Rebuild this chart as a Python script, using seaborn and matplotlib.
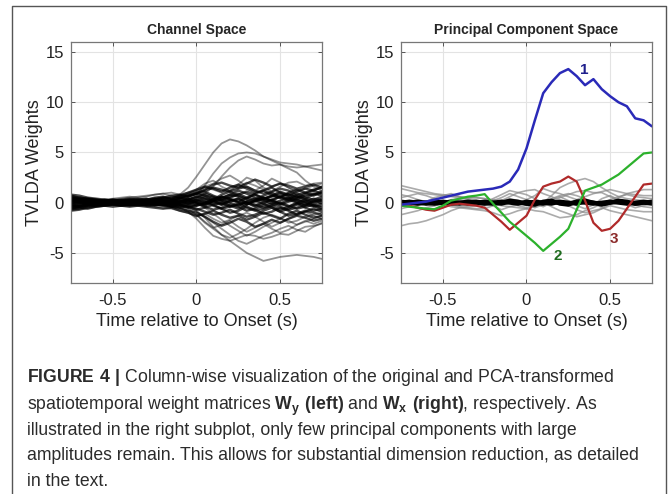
import numpy as np
import pandas as pd
import seaborn as sns
import matplotlib.pyplot as plt
from matplotlib.lines import Line2D

# time axis (s), one sample every 50 ms
time = [-0.75, -0.70, -0.65, -0.60, -0.55, -0.50, -0.45, -0.40, -0.35, -0.30,
        -0.25, -0.20, -0.15, -0.10, -0.05, 0.00, 0.05, 0.10, 0.15, 0.20,
        0.25, 0.30, 0.35, 0.40, 0.45, 0.50, 0.55, 0.60, 0.65, 0.70, 0.75]

# left panel: channel weights
channel_bundle = [
    [0.6,0.5,0.4,0.3,0.2,0.1,0.2,0.3,0.2,0.1,0.3,0.4,0.5,0.6,0.8,1.0,1.2,1.5,1.3,1.1,1.4,1.6,1.2,0.9,1.1,1.4,1.2,0.8,1.0,1.3,1.5],
    [-0.7,-0.6,-0.4,-0.3,-0.2,-0.1,-0.2,-0.1,0.0,-0.1,-0.2,-0.3,-0.4,-0.5,-0.3,-0.6,-0.9,-1.2,-1.0,-0.7,-1.1,-1.4,-1.2,-0.8,-0.5,-0.9,-1.3,-1.1,-0.8,-1.0,-1.2],
    [0.3,0.2,0.3,0.2,0.1,0.2,0.1,0.0,0.1,0.2,0.1,0.0,0.2,0.3,0.1,0.4,0.7,0.5,0.2,0.6,0.9,0.5,0.3,0.7,1.0,0.6,0.4,0.8,0.5,0.3,0.6],
    [-0.3,-0.2,-0.1,-0.2,-0.1,0.0,0.1,0.0,-0.1,0.0,0.1,0.2,0.0,-0.2,-0.4,-0.2,0.1,-0.3,-0.6,-0.4,-0.1,-0.5,-0.8,-0.6,-0.3,-0.7,-0.4,-0.1,-0.5,-0.8,-0.6],
    [0.8,0.7,0.5,0.4,0.3,0.2,0.3,0.4,0.3,0.2,0.4,0.5,0.3,0.5,0.7,0.9,1.3,1.8,2.0,1.7,1.5,1.9,2.3,2.0,1.6,1.9,1.7,1.4,1.6,1.8,1.5],
    [-0.5,-0.4,-0.3,-0.2,-0.3,-0.2,-0.1,-0.2,-0.3,-0.2,-0.1,-0.2,-0.4,-0.6,-0.8,-1.0,-1.4,-1.9,-2.3,-2.0,-1.6,-1.9,-2.4,-2.1,-1.7,-2.0,-1.6,-1.3,-1.5,-1.8,-1.6],
    [0.1,0.0,0.1,0.0,0.1,0.0,-0.1,0.0,0.1,0.0,-0.1,0.0,0.1,0.0,0.2,0.0,-0.2,0.1,0.3,0.0,-0.3,0.1,0.4,0.2,-0.1,0.2,0.5,0.1,-0.2,0.2,0.0],
    [-0.1,0.0,-0.1,0.0,-0.1,0.0,0.1,0.0,-0.1,0.0,0.1,0.0,-0.1,0.0,-0.2,0.1,0.3,0.0,-0.2,0.2,0.4,0.0,-0.3,0.1,0.3,-0.1,-0.4,0.0,0.3,-0.1,0.2],
    [0.5,0.4,0.2,0.1,0.0,0.1,0.2,0.1,0.0,0.1,0.3,0.5,0.7,0.8,0.6,0.9,1.1,0.7,0.4,0.8,1.2,0.9,0.5,0.3,0.7,1.1,0.8,0.5,0.9,1.2,0.9],
    [-0.8,-0.7,-0.5,-0.4,-0.3,-0.2,-0.3,-0.2,-0.1,-0.2,-0.3,-0.1,0.0,-0.2,-0.4,-0.7,-0.5,-0.2,-0.6,-1.0,-0.8,-0.4,-0.7,-1.1,-0.9,-0.5,-0.8,-1.2,-0.9,-0.6,-0.9],
    [0.2,0.3,0.2,0.1,0.2,0.3,0.2,0.3,0.4,0.3,0.2,0.1,-0.1,0.1,0.3,0.6,0.4,0.2,0.5,0.8,0.6,0.3,0.1,0.4,0.7,0.5,0.2,0.4,0.7,0.9,0.7],
    [-0.4,-0.3,-0.2,-0.1,0.0,-0.1,0.0,-0.1,-0.2,-0.3,-0.2,-0.1,-0.3,-0.1,0.1,-0.1,-0.4,-0.7,-0.5,-0.2,-0.4,-0.8,-0.6,-0.3,-0.1,-0.4,-0.7,-0.5,-0.2,-0.4,-0.3],
    [0.4,0.3,0.1,0.0,-0.1,0.0,0.1,0.2,0.1,0.3,0.5,0.6,0.4,0.7,1.0,1.3,1.6,1.4,1.1,1.5,1.8,1.4,1.0,1.2,1.5,1.0,0.7,1.1,1.4,1.2,1.6],
    [-0.6,-0.5,-0.6,-0.4,-0.3,-0.4,-0.3,-0.4,-0.3,-0.4,-0.5,-0.6,-0.5,-0.8,-1.0,-1.3,-1.1,-0.8,-1.2,-1.5,-1.3,-1.7,-1.4,-1.0,-1.3,-1.6,-1.1,-0.8,-1.2,-1.5,-1.3],
    [0.0,0.1,0.0,-0.1,0.0,0.1,0.0,0.1,0.2,0.1,0.0,-0.1,0.0,0.2,0.0,0.3,0.1,-0.2,0.0,0.3,0.1,-0.1,0.2,0.4,0.1,-0.2,0.1,0.3,0.0,-0.3,-0.1],
    [0.7,0.5,0.4,0.3,0.2,0.3,0.2,0.1,0.2,0.3,0.4,0.2,0.3,0.5,0.3,0.0,-0.3,0.2,0.6,0.3,0.0,-0.2,0.2,0.5,0.2,-0.1,0.3,0.6,0.3,0.1,0.4],
    [-0.2,-0.3,-0.2,-0.3,-0.2,-0.1,-0.2,-0.1,0.0,-0.1,0.0,0.1,0.2,0.1,-0.1,-0.3,-0.1,0.2,-0.1,-0.4,-0.2,0.1,-0.2,-0.5,-0.3,0.0,-0.3,-0.6,-0.4,-0.2,-0.5],
    [0.5,0.3,0.2,0.1,0.0,-0.1,0.0,0.1,0.0,-0.1,0.0,0.1,0.2,0.0,0.3,0.6,0.9,0.6,0.3,0.5,0.8,1.1,0.8,0.4,0.6,0.9,0.6,0.3,0.1,0.4,0.2],
    [-0.3,-0.4,-0.3,-0.2,-0.1,-0.2,-0.3,-0.2,-0.1,0.0,0.1,0.0,-0.2,0.1,0.4,0.2,-0.1,0.3,0.6,0.4,0.1,0.5,0.8,0.5,0.2,0.6,0.9,0.6,0.4,0.8,1.0],
    [0.4,0.2,0.1,0.0,0.1,0.0,-0.1,-0.2,-0.1,0.0,-0.1,-0.2,-0.1,-0.3,-0.1,0.2,0.5,0.2,-0.2,0.1,0.4,0.0,-0.4,-0.1,0.3,0.6,0.3,0.0,-0.3,0.1,0.3],
    [-0.6,-0.4,-0.2,-0.1,0.0,-0.1,-0.2,-0.3,-0.2,-0.1,0.0,-0.2,-0.4,-0.3,-0.5,-0.3,0.0,0.4,0.1,-0.3,-0.6,-0.2,0.2,-0.1,-0.5,-0.9,-0.6,-0.2,0.1,-0.3,-0.7],
    [0.3,0.4,0.3,0.2,0.3,0.2,0.1,0.2,0.3,0.4,0.2,0.3,0.1,0.4,0.6,0.9,0.7,0.3,0.8,1.1,0.7,0.4,0.9,1.2,0.8,0.5,1.0,1.3,1.0,0.7,1.1],
]

channel_outliers = [
    [0.2,0.1,0.0,0.1,0.0,0.1,0.2,0.1,0.2,0.3,0.2,0.3,0.5,0.8,1.5,2.6,3.8,5.0,5.9,6.3,6.1,5.7,5.2,4.6,4.2,3.8,3.4,3.0,2.2,1.6,1.2],
    [-0.2,-0.1,0.0,0.1,0.0,0.1,0.0,0.1,0.2,0.1,0.2,0.3,0.2,0.4,0.6,0.8,1.7,2.9,3.9,4.5,4.9,5.0,4.9,4.6,4.3,4.0,3.9,3.8,3.6,3.7,3.8],
    [0.1,0.2,0.1,0.0,0.1,0.2,0.1,0.2,0.1,0.2,0.3,0.2,0.1,0.2,0.4,0.5,0.9,1.6,2.6,3.5,4.2,4.6,4.3,3.9,3.7,3.8,3.6,3.5,3.6,3.4,3.2],
    [0.3,0.2,0.3,0.2,0.1,0.2,0.3,0.2,0.1,0.2,0.3,0.5,0.4,0.6,0.9,1.3,1.9,2.2,1.6,1.2,1.8,2.5,2.2,1.5,1.1,1.6,2.0,2.1,1.7,1.9,2.0],
    [-0.3,-0.2,-0.1,0.0,0.1,0.0,-0.1,0.0,0.1,0.0,-0.1,0.0,0.2,0.4,0.7,1.1,1.6,1.9,2.4,2.7,2.2,1.6,1.2,1.7,2.4,2.0,1.5,1.0,0.6,0.9,1.2],
    [0.1,0.0,-0.1,0.0,0.1,0.0,-0.1,0.0,-0.1,0.0,-0.1,-0.2,-0.3,-0.2,-0.4,-0.8,-1.5,-2.4,-3.2,-3.8,-4.4,-5.0,-5.4,-5.8,-5.6,-5.4,-5.3,-5.2,-5.3,-5.4,-5.6],
    [0.2,0.1,0.0,-0.1,0.0,-0.1,0.0,-0.1,-0.2,-0.1,-0.2,-0.3,-0.2,-0.5,-0.9,-1.6,-2.5,-3.3,-3.6,-3.8,-3.5,-3.2,-3.3,-3.6,-3.4,-3.1,-3.2,-2.8,-2.4,-2.3,-2.1],
    [-0.1,0.0,0.1,0.0,-0.1,0.0,0.1,0.0,-0.1,-0.2,-0.1,-0.3,-0.2,-0.4,-0.6,-1.2,-2.0,-2.6,-3.2,-3.5,-3.1,-2.6,-2.0,-1.5,-1.2,-1.5,-2.0,-1.8,-1.4,-1.2,-1.0],
    [0.0,-0.1,0.0,0.1,0.0,-0.1,0.0,-0.1,0.0,-0.1,-0.2,-0.1,-0.3,-0.2,-0.5,-0.9,-1.4,-2.0,-2.6,-3.2,-3.8,-4.1,-3.7,-3.3,-3.0,-2.6,-2.3,-2.7,-2.9,-2.4,-2.0],
    [0.4,0.3,0.2,0.1,0.2,0.1,0.0,0.1,0.0,-0.1,-0.2,-0.1,-0.3,-0.5,-0.8,-1.2,-1.9,-2.5,-2.2,-1.8,-2.4,-2.9,-2.5,-2.1,-2.6,-3.0,-2.7,-2.2,-1.8,-2.1,-1.8],
    [-0.5,-0.4,-0.3,-0.2,-0.1,0.0,-0.1,-0.2,-0.1,-0.3,-0.4,-0.5,-0.6,-0.8,-1.0,-1.4,-1.1,-1.6,-2.0,-1.7,-1.3,-1.0,-1.4,-1.9,-2.4,-2.0,-1.6,-1.2,-0.9,-1.3,-1.6],
    [0.2,0.3,0.4,0.3,0.2,0.3,0.4,0.5,0.6,0.7,0.8,0.9,0.7,0.5,0.3,0.0,-0.5,-1.1,-1.7,-2.3,-2.8,-3.3,-2.9,-2.4,-2.0,-1.6,-1.8,-2.2,-1.9,-1.6,-1.3],
    [0.6,0.4,0.3,0.2,0.3,0.4,0.5,0.6,0.5,0.6,0.8,0.9,1.0,0.8,1.0,1.2,1.5,1.3,1.0,1.2,1.6,2.0,1.7,1.3,1.6,1.9,1.5,1.2,1.4,1.7,1.9],
]

# right panel: principal components
pc1 = [-0.2,-0.1,0.0,0.1,0.3,0.5,0.7,0.9,1.1,1.2,1.3,1.4,1.6,2.1,3.3,5.4,8.2,10.9,12.0,12.9,13.3,12.6,11.7,12.3,11.3,10.6,10.0,9.6,8.4,8.2,7.6]
pc2 = [-0.3,-0.4,-0.5,-0.6,-0.65,-0.3,0.2,0.4,0.6,0.7,0.85,-0.1,-1.0,-1.9,-2.6,-3.3,-4.0,-4.8,-4.1,-3.4,-2.6,-0.7,1.2,1.5,1.8,2.3,2.8,3.5,4.2,4.9,5.0]
pc3 = [-0.2,-0.3,-0.5,-0.7,-0.8,-0.5,-0.2,-0.1,-0.2,-0.3,-0.5,-1.2,-1.9,-2.7,-2.0,-1.3,0.3,1.6,1.9,2.1,2.6,2.1,0.2,-2.0,-2.8,-2.6,-1.8,-0.6,0.6,1.8,1.9]

pc_gray = [
    [1.7,1.5,1.3,1.1,0.9,0.8,0.7,0.6,0.5,0.5,0.4,0.3,0.2,0.0,-0.3,-0.5,-0.2,0.0,0.7,1.5,1.9,2.2,2.4,2.1,1.5,1.0,0.6,0.4,0.3,0.2,0.2],
    [1.4,1.2,1.0,0.9,0.8,0.7,0.6,0.5,0.3,0.2,0.1,-0.1,-0.3,-0.4,-0.5,-0.6,-0.8,-0.9,-1.2,-1.5,-1.4,-1.2,-0.8,-0.5,-0.1,0.3,0.6,0.8,0.6,0.5,0.4],
    [-2.3,-2.1,-2.0,-1.8,-1.5,-1.2,-0.8,-0.5,-0.6,-0.7,-0.8,-1.0,-1.3,-1.1,-0.8,-0.6,-0.4,0.0,0.4,0.7,0.9,0.7,0.4,0.0,-0.5,-0.8,-1.0,-1.2,-1.4,-1.6,-1.8],
    [-1.2,-1.0,-0.8,-0.5,-0.3,0.0,0.3,0.4,0.5,0.5,0.4,0.2,0.5,0.9,0.6,0.3,-0.1,-0.4,0.0,0.5,0.8,1.1,1.2,1.0,1.0,0.6,0.2,0.0,-0.2,-0.4,-0.5],
    [0.5,0.7,0.9,0.7,0.4,0.1,-0.2,-0.4,-0.5,-0.6,-0.6,-0.3,0.2,0.6,1.0,1.2,1.3,0.9,0.6,0.2,-0.3,-0.7,-1.0,-0.8,-0.6,-0.1,0.5,0.9,1.1,1.3,1.3],
    [0.8,0.6,0.3,0.1,-0.1,-0.2,-0.4,-0.5,-0.4,-0.3,-0.1,0.4,0.8,1.2,1.0,0.8,0.4,0.0,-0.4,-0.8,-1.1,-1.4,-1.2,-1.0,-0.6,-0.3,-0.5,-0.7,-0.8,-0.9,-0.9],
    [-0.6,-0.4,-0.3,0.1,0.5,0.7,0.9,0.6,0.4,0.2,0.0,-0.3,-0.7,-0.4,-0.2,0.3,0.7,1.4,1.1,0.9,0.6,0.3,0.6,0.9,1.1,1.3,1.1,0.9,0.8,0.7,0.7],
    [0.2,0.1,0.0,-0.2,-0.3,-0.1,0.2,0.3,0.1,-0.1,-0.3,-0.2,0.1,0.4,0.2,-0.2,-0.5,-0.2,0.3,0.6,0.2,-0.3,-0.6,-0.2,0.4,0.7,0.3,-0.2,-0.5,-0.3,0.0],
]

pc_small = [
    [0.1,0.0,-0.1,0.0,0.1,0.0,-0.1,0.0,0.1,0.0,-0.1,0.0,0.1,0.0,-0.1,0.1,0.0,-0.1,0.1,0.0,-0.1,0.1,0.0,-0.1,0.0,0.1,0.0,-0.1,0.0,0.1,0.0],
    [-0.1,0.0,0.1,0.0,-0.1,0.0,0.1,0.0,-0.1,0.0,0.1,0.0,-0.1,0.1,0.0,-0.1,0.1,0.0,-0.1,0.1,0.0,-0.1,0.1,0.0,-0.1,0.0,0.1,0.0,-0.1,0.0,-0.1],
    [0.0,0.1,0.0,-0.1,0.0,0.1,0.0,-0.1,0.0,0.1,0.0,-0.1,0.0,0.2,0.1,-0.1,-0.2,0.1,0.2,-0.1,-0.2,0.1,0.2,0.0,-0.2,0.0,0.2,0.1,-0.1,0.0,0.1],
]

caption_lines = [
    r"$\mathbf{FIGURE\ 4\ |}$ Column-wise visualization of the original and PCA-transformed",
    r"spatiotemporal weight matrices $\mathbf{W_y\ (left)}$ and $\mathbf{W_x\ (right)}$, respectively. As",
    "illustrated in the right subplot, only few principal components with large",
    "amplitudes remain. This allows for substantial dimension reduction, as detailed",
    "in the text.",
]


def to_long(rows):
    recs = []
    for i, r in enumerate(rows):
        for t, v in zip(time, r):
            recs.append({"time": t, "weight": v, "line": i})
    return pd.DataFrame(recs)


sns.set_style("whitegrid")
plt.rcParams['font.family'] = ['Liberation Sans', 'DejaVu Sans']
plt.rcParams['mathtext.fontset'] = 'custom'
plt.rcParams['mathtext.rm'] = 'Liberation Sans'
plt.rcParams['mathtext.bf'] = 'Liberation Sans:bold'

fig = plt.figure(figsize=(6.68, 4.94), dpi=100)
ax1 = fig.add_axes([0.1063, 0.4271, 0.3757, 0.4879])
ax2 = fig.add_axes([0.6003, 0.4271, 0.3757, 0.4879])

# left: channel space
sns.lineplot(data=to_long(channel_bundle), x="time", y="weight",
             units="line", estimator=None, color="black", alpha=0.7, lw=1.7, ax=ax1)
sns.lineplot(data=to_long(channel_outliers), x="time", y="weight",
             units="line", estimator=None, color="black", alpha=0.42, lw=1.3, ax=ax1)
ax1.set_title("Channel Space", fontsize=10, fontweight="bold", pad=6)

# right: principal component space
sns.lineplot(data=to_long(pc_gray), x="time", y="weight", units="line",
             estimator=None, color="#888888", alpha=0.7, lw=1.2, ax=ax2)
sns.lineplot(data=to_long(pc_small), x="time", y="weight", units="line",
             estimator=None, color="black", lw=3.0, ax=ax2)
sns.lineplot(x=time, y=pc3, color="#b02a2a", lw=1.6, ax=ax2)
sns.lineplot(x=time, y=pc2, color="#2cb12c", lw=1.6, ax=ax2)
sns.lineplot(x=time, y=pc1, color="#2a2ab8", lw=1.8, ax=ax2)
ax2.text(0.345, 13.2, "1", color="#1f1f8c", fontsize=11, fontweight="bold", ha="center", va="center")
ax2.text(0.185, -5.3, "2", color="#1e6b1e", fontsize=11, fontweight="bold", ha="center", va="center")
ax2.text(0.52, -3.6, "3", color="#8b2a2a", fontsize=11, fontweight="bold", ha="center", va="center")
ax2.set_title("Principal Component Space", fontsize=10, fontweight="bold", pad=6)

for ax in (ax1, ax2):
    ax.set_xlim(-0.75, 0.75)
    ax.set_ylim(-8, 16)
    ax.set_xticks([-0.5, 0, 0.5])
    ax.set_xticklabels(["-0.5", "0", "0.5"])
    ax.set_yticks([-5, 0, 5, 10, 15])
    ax.set_yticklabels(["-5", "0", "5", "10", "15"])
    ax.grid(True, color="#e3e3e3", lw=0.8)
    for s in ax.spines.values():
        s.set_visible(True)
        s.set_color("#777777")
        s.set_linewidth(0.9)
    ax.tick_params(direction="in", length=3, width=0.7, color="#555555",
                   labelsize=12, labelcolor="#222222", top=True, right=True,
                   left=True, bottom=True)
    ax.tick_params(axis="x", pad=7)
    ax.tick_params(axis="y", pad=5)
    ax.set_xlabel("Time relative to Onset (s)", fontsize=13, color="#222222", labelpad=4)
    ax.set_ylabel("TVLDA Weights", fontsize=13, color="#222222", labelpad=2)

# figure frame (open at the bottom)
fig.add_artist(Line2D([12 / 668, 12 / 668, 666 / 668, 666 / 668],
                      [0, 1 - 6 / 494, 1 - 6 / 494, 0],
                      transform=fig.transFigure, color="#555555", lw=1.0))

baselines = [382, 410, 435, 460, 486]
for line, y in zip(caption_lines, baselines):
    fig.text(27 / 668, 1 - y / 494, line, fontsize=12.7, color="#2b2b2b",
             ha="left", va="baseline")

fig.savefig("out.png", dpi=100)
